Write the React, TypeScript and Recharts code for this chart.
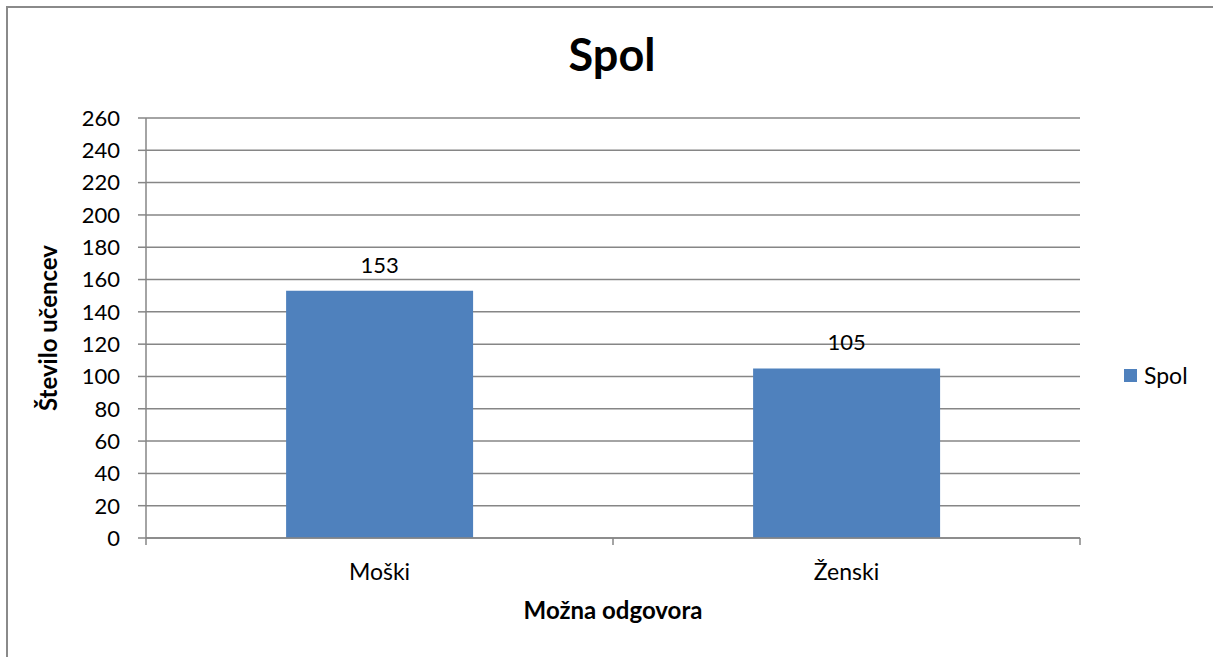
import React from "react";
import { BarChart, Bar, XAxis, YAxis, CartesianGrid, LabelList, Label } from "recharts";

const categories = ["Moški", "Ženski"];
const spolValues = [153, 105];
const yTicks = [0, 20, 40, 60, 80, 100, 120, 140, 160, 180, 200, 220, 240, 260];

const data = categories.map((name, i) => ({ name, Spol: spolValues[i] }));

const FONT = "Lato, 'Open Sans', sans-serif";
const BAR_COLOR = "#4F81BD";
const GRID = "#868686";

function CategoryTick(props: any) {
  const { x, y, payload, index } = props;
  const half = payload.offset || 0;
  const last = index === categories.length - 1;
  return (
    <g>
      <line x1={x - half} x2={x - half} y1={y - 8} y2={y - 1} stroke={GRID} strokeWidth={1.5} />
      {last && (
        <line x1={x + half} x2={x + half} y1={y - 8} y2={y - 1} stroke={GRID} strokeWidth={1.5} />
      )}
      <text x={x} y={y + 34} textAnchor="middle" fontSize={23} fill="#000" fontFamily={FONT}>
        {payload.value}
      </text>
    </g>
  );
}

export default function App() {
  return (
    <div style={{ position: "absolute", left: 0, top: 0, width: 1213, height: 657, background: "#fff" }}>
      <div
        style={{
          position: "absolute",
          left: 6,
          top: 6,
          width: 1207,
          height: 651,
          borderLeft: "2px solid #8a8a8a",
          borderTop: "2px solid #8a8a8a",
          boxSizing: "border-box",
        }}
      />
      <div
        style={{
          position: "absolute",
          left: 0,
          width: 1224,
          top: 27,
          textAlign: "center",
          fontFamily: FONT,
          fontWeight: 700,
          fontSize: 45,
          color: "#000",
        }}
      >
        Spol
      </div>
      <div style={{ position: "absolute", left: 0, top: 0 }}>
        <BarChart
          width={1213}
          height={657}
          data={data}
          margin={{ top: 118, right: 133, bottom: 0, left: 0 }}
          barCategoryGap="30%"
        >
          <CartesianGrid horizontal vertical={false} stroke={GRID} strokeWidth={1.5} />
          <XAxis
            dataKey="name"
            height={119}
            axisLine={{ stroke: GRID, strokeWidth: 1.5 }}
            tickLine={false}
            tick={<CategoryTick />}
            interval={0}
          >
            <Label
              value="Možna odgovora"
              position="insideTop"
              offset={64}
              style={{ fontFamily: FONT, fontWeight: 700, fontSize: 24, fill: "#000" }}
            />
          </XAxis>
          <YAxis
            width={146}
            domain={[0, 260]}
            ticks={yTicks}
            interval={0}
            axisLine={{ stroke: GRID, strokeWidth: 1.5 }}
            tickLine={{ stroke: GRID, strokeWidth: 1.5 }}
            tickSize={8}
            tickMargin={18}
            tick={{ fontSize: 22, fill: "#000", fontFamily: FONT }}
          >
            <Label
              value="Število učencev"
              angle={-90}
              position="insideLeft"
              offset={48}
              style={{ textAnchor: "middle", fontFamily: FONT, fontWeight: 700, fontSize: 24, fill: "#000" }}
            />
          </YAxis>
          <Bar dataKey="Spol" fill={BAR_COLOR} isAnimationActive={false}>
            <LabelList
              dataKey="Spol"
              position="top"
              offset={18}
              style={{ fontSize: 22, fill: "#000", fontFamily: FONT }}
            />
          </Bar>
        </BarChart>
      </div>
      <div
        style={{
          position: "absolute",
          left: 1124,
          top: 361,
          display: "flex",
          alignItems: "center",
          fontFamily: FONT,
          fontSize: 23,
          color: "#000",
        }}
      >
        <span style={{ display: "inline-block", width: 13, height: 13, background: BAR_COLOR, marginRight: 7 }} />
        Spol
      </div>
    </div>
  );
}
